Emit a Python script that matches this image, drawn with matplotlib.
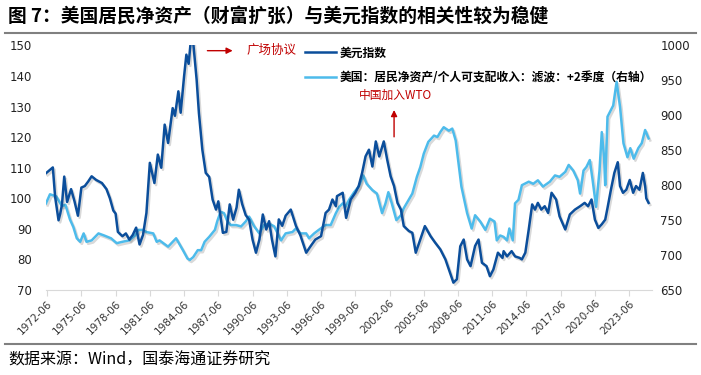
import matplotlib.pyplot as plt
import matplotlib.patheffects as pe
from matplotlib.lines import Line2D

plt.rcParams['font.family'] = ['Noto Sans CJK SC', 'DejaVu Sans']

# 美元指数（左轴），按图读数：年份（小数）与数值
dxy_t = [1972.4, 1973.0, 1973.2, 1973.5, 1973.65, 1973.8, 1974.0, 1974.25, 1974.6, 1974.9,
         1975.2, 1975.5, 1975.8, 1976.1, 1976.4, 1976.8, 1977.3, 1977.7, 1978.0, 1978.3,
         1978.5, 1978.7, 1979.1, 1979.4, 1979.7, 1980.0, 1980.3, 1980.6, 1980.9, 1981.2,
         1981.5, 1981.9, 1982.2, 1982.5, 1982.8, 1983.1, 1983.5, 1983.7, 1984.0, 1984.2,
         1984.5, 1984.7, 1984.9, 1985.1, 1985.3, 1985.6, 1985.8, 1986.1, 1986.4, 1986.7,
         1987.0, 1987.3, 1987.5, 1987.9, 1988.2, 1988.5, 1988.8, 1989.1, 1989.3, 1989.6,
         1989.9, 1990.2, 1990.5, 1990.8, 1991.1, 1991.4, 1991.7, 1991.95, 1992.2, 1992.5,
         1992.8, 1993.1, 1993.4, 1993.85, 1994.3, 1994.7, 1995.2, 1995.6, 1996.0, 1996.5,
         1996.9, 1997.2, 1997.5, 1997.8, 1997.9, 1998.4, 1998.7, 1999.1, 1999.5, 1999.8,
         2000.1, 2000.4, 2000.7, 2001.0, 2001.3, 2001.6, 2002.0, 2002.3, 2002.6, 2002.9,
         2003.2, 2003.5, 2003.75, 2004.2, 2004.5, 2004.8, 2005.2, 2005.6, 2006.1, 2006.5,
         2006.95, 2007.4, 2007.8, 2008.1, 2008.4, 2008.7, 2009.0, 2009.3, 2009.6, 2010.0,
         2010.3, 2010.6, 2011.0, 2011.3, 2011.6, 2012.0, 2012.4, 2012.5, 2012.8, 2013.2,
         2013.5, 2013.9, 2014.1, 2014.4, 2014.7, 2015.0, 2015.25, 2015.5, 2015.8, 2016.1,
         2016.4, 2016.7, 2017.1, 2017.4, 2017.9, 2018.3, 2018.75, 2019.2, 2019.6, 2019.9,
         2020.2, 2020.5, 2020.8, 2021.1, 2021.4, 2021.6, 2021.9, 2022.2, 2022.5, 2022.7,
         2022.96, 2023.25, 2023.55, 2023.85, 2024.1, 2024.4, 2024.7, 2024.9, 2025.0, 2025.2]
dxy_v = [108.2, 110.1, 100.5, 92.8, 95.0, 97.9, 107.1, 98.8, 103.0, 99.0,
         94.3, 103.5, 104.0, 105.5, 107.2, 106.0, 105.0, 103.0, 100.0, 96.0,
         95.0, 89.0, 87.6, 88.5, 86.5, 88.0, 90.4, 84.9, 88.0, 95.2,
         111.6, 105.0, 114.3, 110.0, 124.1, 118.1, 129.5, 127.0, 135.0, 128.0,
         139.9, 147.0, 144.0, 152.0, 151.0, 138.8, 127.9, 115.9, 108.3, 107.0,
         99.6, 96.3, 99.0, 88.7, 89.0, 98.0, 93.0, 97.0, 102.8, 98.0,
         94.5, 93.0, 86.5, 82.2, 86.5, 94.7, 89.8, 92.5, 86.5, 81.0,
         93.1, 91.0, 94.3, 96.3, 91.0, 87.8, 82.2, 84.4, 86.5, 87.6,
         95.2, 96.3, 99.6, 97.4, 100.7, 101.8, 93.6, 99.6, 101.8, 104.0,
         108.3, 113.7, 115.9, 110.4, 118.6, 113.7, 118.6, 112.6, 107.2, 104.0,
         98.5, 96.3, 90.9, 89.3, 88.7, 82.2, 86.5, 90.9, 87.6, 85.5,
         83.3, 80.0, 75.6, 72.4, 73.5, 84.3, 86.5, 80.0, 77.8, 84.4,
         86.5, 78.9, 77.8, 74.5, 76.7, 82.2, 80.5, 82.7, 81.0, 82.7,
         81.0, 80.5, 80.0, 82.2, 89.8, 98.0, 96.3, 98.5, 96.3, 97.4,
         95.2, 101.8, 99.6, 94.1, 89.8, 94.7, 96.3, 97.4, 98.5, 97.4,
         99.6, 93.0, 90.3, 91.5, 93.0, 96.8, 102.8, 108.3, 111.8, 104.0,
         101.8, 102.8, 106.0, 101.8, 104.0, 102.8, 108.3, 104.0, 100.0, 98.5]

# 美国：居民净资产/个人可支配收入：滤波：+2季度（右轴）
ratio_t = [1972.4, 1972.75, 1973.3, 1973.8, 1974.1, 1974.5, 1974.8, 1975.1, 1975.4, 1975.7,
           1975.95, 1976.4, 1977.0, 1977.5, 1978.1, 1978.6, 1979.1, 1979.7, 1980.2, 1980.5,
           1980.9, 1981.2, 1981.8, 1982.1, 1982.35, 1983.1, 1983.8, 1984.4, 1984.8, 1985.0,
           1985.3, 1985.7, 1986.0, 1986.3, 1986.7, 1987.2, 1987.4, 1987.7, 1988.0, 1988.3,
           1988.6, 1989.05, 1989.5, 1989.9, 1990.2, 1990.65, 1991.1, 1991.5, 1991.95, 1992.4,
           1992.7, 1993.0, 1993.4, 1994.0, 1994.3, 1994.7, 1995.2, 1995.45, 1995.9, 1996.3,
           1996.9, 1997.35, 1997.8, 1998.1, 1998.4, 1998.65, 1998.95, 1999.4, 1999.8, 2000.2,
           2000.5, 2001.0, 2001.4, 2001.85, 2002.15, 2002.4, 2002.7, 2003.1, 2003.5, 2003.75,
           2004.0, 2004.5, 2004.9, 2005.2, 2005.5, 2005.9, 2006.4, 2006.7, 2006.95, 2007.25,
           2007.7, 2008.0, 2008.3, 2008.55, 2008.8, 2009.3, 2009.7, 2010.0, 2010.45, 2010.9,
           2011.3, 2011.7, 2011.9, 2012.2, 2012.5, 2012.8, 2013.0, 2013.3, 2013.5, 2013.8,
           2014.1, 2014.7, 2015.1, 2015.5, 2015.95, 2016.55, 2017.0, 2017.4, 2017.9, 2018.2,
           2018.6, 2019.0, 2019.2, 2019.5, 2019.75, 2020.05, 2020.3, 2020.6, 2020.9, 2021.1,
           2021.3, 2021.4, 2021.6, 2022.1, 2022.4, 2022.7, 2023.0, 2023.35, 2023.6, 2023.9,
           2024.3, 2024.6, 2024.9, 2025.2]
ratio_v = [774, 787, 784, 770, 772, 751, 740, 724, 719, 731,
           719, 721, 731, 728, 724, 717, 719, 721, 728, 736,
           736, 733, 731, 719, 721, 712, 724, 707, 695, 693,
           697, 707, 707, 719, 726, 736, 748, 762, 760, 748,
           743, 743, 741, 748, 755, 741, 731, 743, 745, 741,
           731, 721, 731, 733, 738, 731, 731, 724, 731, 736,
           743, 743, 760, 769, 774, 769, 779, 790, 798, 814,
           802, 793, 788, 760, 774, 790, 774, 750, 757, 767,
           774, 788, 812, 826, 845, 862, 871, 869, 876, 883,
           878, 881, 864, 831, 798, 760, 738, 757, 748, 736,
           752, 748, 721, 728, 726, 721, 738, 721, 774, 779,
           800, 805, 802, 807, 798, 805, 814, 812, 819, 829,
           821, 807, 788, 821, 826, 836, 807, 769, 821, 876,
           840, 800, 898, 914, 948, 912, 860, 840, 853, 838,
           853, 860, 879, 867]

tick_years = [1972.5 + 3 * i for i in range(18)]
tick_labels = ['%d-06' % (1972 + 3 * i) for i in range(18)]

DARK = '#0B4E9B'
LIGHT = '#4DBBEB'
RED = '#C00000'
shadow = [pe.SimpleLineShadow(offset=(1.2, -1.5), alpha=0.15), pe.Normal()]

fig = plt.figure(figsize=(7.01, 3.75), dpi=100)
ax = fig.add_axes([0.0656, 0.2267, 0.8645, 0.652])
ax2 = ax.twinx()

ax.plot(dxy_t, dxy_v, color=DARK, lw=1.8, path_effects=shadow, zorder=3)
ax2.plot(ratio_t, ratio_v, color=LIGHT, lw=1.8, path_effects=shadow, zorder=2)
ax.set_zorder(ax2.get_zorder() + 1)
ax.patch.set_visible(False)

ax.set_xlim(1972.4, 2025.5)
ax.set_ylim(70, 150)
ax2.set_ylim(650, 1000)
ax.set_yticks(range(70, 151, 10))
ax2.set_yticks(range(650, 1001, 50))
ax.set_xticks(tick_years)
ax.set_xticklabels(tick_labels, rotation=45, ha='right', rotation_mode='anchor',
                   fontsize=7.5, family='DejaVu Sans', color='#333333')

for a in (ax, ax2):
    for s in ('top', 'left', 'right'):
        a.spines[s].set_visible(False)
    a.spines['bottom'].set_color('#D9D9D9')
    a.tick_params(axis='y', length=0, labelsize=8.5, colors='#222222')
ax.tick_params(axis='x', length=4, color='#D9D9D9', pad=2)
ax2.spines['bottom'].set_visible(False)
for lab in ax.get_yticklabels() + ax2.get_yticklabels():
    lab.set_family('DejaVu Sans')
ax.tick_params(axis='y', pad=10)
ax2.tick_params(axis='y', pad=6)

handles = [Line2D([], [], color=DARK, lw=1.8), Line2D([], [], color=LIGHT, lw=1.8)]
leg = ax.legend(handles, ['美元指数', '美国：居民净资产/个人可支配收入：滤波：+2季度（右轴）'],
                loc='upper left', bbox_to_anchor=(0.41, 1.04), frameon=False,
                handlelength=2.6, handletextpad=0.3, labelspacing=1.0,
                prop={'size': 8.5, 'weight': 'bold'})

# 标注
ax.annotate('', xy=(1989.0, 148.3), xytext=(1986.3, 148.3),
            arrowprops=dict(arrowstyle='-|>', color=RED, lw=1, mutation_scale=9))
ax.text(1990.0, 148.3, '广场协议', color=RED, fontsize=9, va='center', ha='left')
ax.annotate('', xy=(2002.9, 129.8), xytext=(2002.9, 119.2),
            arrowprops=dict(arrowstyle='-|>', color=RED, lw=1, mutation_scale=9))
ax.text(2003.0, 133.6, '中国加入WTO', color=RED, fontsize=8.5, va='center', ha='center')

fig.text(0.012, 0.957, '图 7：美国居民净资产（财富扩张）与美元指数的相关性较为稳健',
         fontsize=13.5, weight='bold', va='center', ha='left')
fig.add_artist(Line2D([0.007, 0.993], [0.912, 0.912], color='#808080', lw=1.5))
fig.add_artist(Line2D([0.007, 0.993], [0.083, 0.083], color='#808080', lw=1.5))
fig.text(0.012, 0.040, '数据来源：Wind，国泰海通证券研究', fontsize=11.5, va='center', ha='left')

fig.savefig('out.png', dpi=100)
